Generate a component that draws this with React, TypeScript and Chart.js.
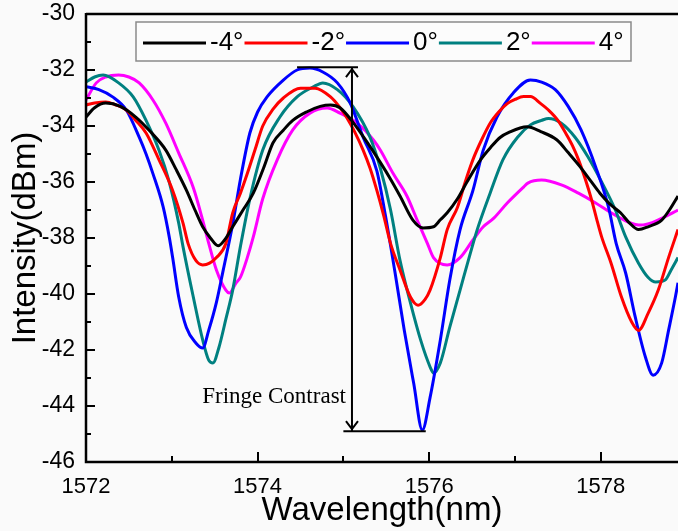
import { useEffect, useRef } from 'react';
import { Chart, registerables } from 'chart.js';

Chart.register(...registerables);

// ---- data (wavelength nm, intensity dBm) ----
const seriesLabels = ['-4°', '-2°', '0°', '2°', '4°'];
const seriesColors = ['#000000', '#ff0000', '#0000ff', '#008080', '#ff00ff'];

const curveNeg4: [number, number][] = [
  [1572.0, -33.68], [1572.1, -33.35], [1572.23, -33.18], [1572.4, -33.3], [1572.58, -33.68],
  [1572.75, -34.2], [1572.93, -34.86], [1573.05, -35.55], [1573.17, -36.29], [1573.27, -37.0],
  [1573.36, -37.6], [1573.45, -38.0], [1573.54, -38.28], [1573.62, -38.05], [1573.71, -37.6],
  [1573.83, -37.0], [1573.95, -36.4], [1574.07, -35.5], [1574.18, -34.6], [1574.3, -34.15],
  [1574.41, -33.8], [1574.57, -33.5], [1574.73, -33.3], [1574.85, -33.25], [1574.96, -33.35],
  [1575.11, -33.86], [1575.27, -34.55], [1575.43, -35.3], [1575.55, -35.9], [1575.66, -36.5],
  [1575.81, -37.36], [1575.93, -37.64], [1576.05, -37.6], [1576.13, -37.35], [1576.21, -37.1],
  [1576.33, -36.6], [1576.44, -36.0], [1576.6, -35.2], [1576.72, -34.75], [1576.83, -34.4],
  [1576.95, -34.2], [1577.06, -34.07], [1577.14, -34.03], [1577.3, -34.2], [1577.49, -34.5],
  [1577.62, -34.95], [1577.76, -35.46], [1577.88, -35.95], [1577.99, -36.4], [1578.11, -36.8],
  [1578.23, -37.1], [1578.33, -37.45], [1578.44, -37.7], [1578.55, -37.6], [1578.71, -37.36],
  [1578.8, -37.0], [1578.9, -36.5],
];

const curveNeg2: [number, number][] = [
  [1572.0, -33.25], [1572.1, -33.18], [1572.23, -33.14], [1572.35, -33.25], [1572.47, -33.43],
  [1572.58, -33.8], [1572.7, -34.25], [1572.85, -35.2], [1573.01, -36.3], [1573.13, -37.46],
  [1573.19, -38.2], [1573.28, -38.8], [1573.36, -38.96], [1573.44, -38.9], [1573.52, -38.7],
  [1573.63, -38.2], [1573.71, -37.1], [1573.8, -36.4], [1573.88, -35.7], [1573.97, -34.85],
  [1574.06, -34.0], [1574.18, -33.4], [1574.3, -33.0], [1574.5, -32.65], [1574.67, -32.65],
  [1574.85, -32.96], [1574.95, -33.3], [1575.04, -33.7], [1575.13, -34.2], [1575.23, -34.86],
  [1575.31, -35.5], [1575.39, -36.3], [1575.47, -37.2], [1575.55, -38.2], [1575.66, -39.14],
  [1575.78, -40.1], [1575.87, -40.4], [1575.95, -40.2], [1576.01, -39.86], [1576.13, -38.7],
  [1576.21, -37.7], [1576.33, -36.9], [1576.42, -36.0], [1576.51, -35.2], [1576.61, -34.5],
  [1576.71, -33.9], [1576.81, -33.5], [1576.91, -33.2], [1577.0, -33.05], [1577.1, -32.95],
  [1577.18, -32.95], [1577.3, -33.2], [1577.39, -33.43], [1577.5, -33.8], [1577.59, -34.25],
  [1577.67, -34.7], [1577.74, -35.2], [1577.82, -35.9], [1577.89, -36.6], [1577.95, -37.3],
  [1578.01, -37.96], [1578.12, -38.9], [1578.24, -40.1], [1578.36, -41.0], [1578.44, -41.3],
  [1578.55, -40.7], [1578.67, -39.86], [1578.79, -38.7], [1578.9, -37.7],
];

const curveZero: [number, number][] = [
  [1572.0, -32.6], [1572.15, -32.7], [1572.31, -32.96], [1572.47, -33.43], [1572.62, -34.4],
  [1572.7, -35.0], [1572.78, -35.7], [1572.9, -36.9], [1572.97, -37.96], [1573.01, -38.7],
  [1573.08, -40.1], [1573.17, -41.2], [1573.28, -41.75], [1573.36, -41.93], [1573.43, -41.3],
  [1573.52, -40.3], [1573.6, -39.14], [1573.71, -37.5], [1573.8, -35.9], [1573.91, -34.25],
  [1574.0, -33.5], [1574.11, -32.96], [1574.3, -32.36], [1574.46, -32.0], [1574.61, -31.93],
  [1574.76, -32.07], [1574.93, -32.46], [1575.08, -33.18], [1575.23, -34.4], [1575.39, -35.6],
  [1575.49, -37.2], [1575.6, -39.2], [1575.71, -41.3], [1575.82, -43.2], [1575.92, -44.86],
  [1576.01, -43.7], [1576.13, -41.64], [1576.24, -39.5], [1576.36, -37.7], [1576.51, -36.3],
  [1576.63, -34.86], [1576.79, -33.68], [1576.98, -32.82], [1577.18, -32.36], [1577.31, -32.43],
  [1577.47, -32.7], [1577.62, -33.3], [1577.77, -34.14], [1577.94, -35.46], [1578.09, -36.9],
  [1578.18, -38.2], [1578.29, -39.25], [1578.4, -40.8], [1578.52, -42.25], [1578.61, -42.9],
  [1578.71, -42.46], [1578.79, -41.3], [1578.87, -40.1], [1578.9, -39.6],
];

const curvePos2: [number, number][] = [
  [1572.0, -32.43], [1572.1, -32.25], [1572.2, -32.18], [1572.38, -32.46], [1572.55, -32.96],
  [1572.7, -33.8], [1572.85, -34.86], [1572.97, -36.0], [1573.08, -37.46], [1573.13, -38.3],
  [1573.25, -40.1], [1573.36, -41.64], [1573.43, -42.36], [1573.48, -42.46], [1573.55, -41.9],
  [1573.63, -40.9], [1573.71, -39.86], [1573.8, -38.3], [1573.91, -36.6], [1574.06, -34.86],
  [1574.26, -33.68], [1574.46, -32.96], [1574.65, -32.6], [1574.76, -32.46], [1574.93, -32.7],
  [1575.11, -33.3], [1575.31, -34.4], [1575.43, -35.5], [1575.55, -37.0], [1575.66, -38.8],
  [1575.78, -40.3], [1575.9, -41.64], [1576.01, -42.6], [1576.05, -42.82], [1576.13, -42.46],
  [1576.24, -41.18], [1576.36, -39.86], [1576.48, -38.54], [1576.56, -37.7], [1576.71, -36.4],
  [1576.86, -35.2], [1577.03, -34.4], [1577.18, -33.96], [1577.31, -33.8], [1577.39, -33.73],
  [1577.54, -33.9], [1577.7, -34.4], [1577.85, -35.1], [1578.01, -36.0], [1578.17, -37.0],
  [1578.29, -37.96], [1578.44, -38.9], [1578.55, -39.4], [1578.64, -39.57], [1578.75, -39.5],
  [1578.82, -39.14], [1578.9, -38.7],
];

const curvePos4: [number, number][] = [
  [1572.0, -33.07], [1572.12, -32.46], [1572.23, -32.25], [1572.38, -32.18], [1572.5, -32.25],
  [1572.62, -32.46], [1572.78, -33.07], [1572.93, -33.9], [1573.08, -34.96], [1573.25, -36.2],
  [1573.36, -37.36], [1573.43, -38.18], [1573.52, -39.14], [1573.63, -39.86], [1573.67, -39.96],
  [1573.75, -39.6], [1573.8, -39.4], [1573.88, -38.7], [1573.95, -37.96], [1574.06, -36.6],
  [1574.23, -35.2], [1574.41, -34.14], [1574.61, -33.54], [1574.81, -33.36], [1574.96, -33.54],
  [1575.16, -33.9], [1575.35, -34.5], [1575.43, -34.86], [1575.58, -35.7], [1575.74, -36.5],
  [1575.86, -37.36], [1575.98, -38.2], [1576.05, -38.7], [1576.21, -38.96], [1576.36, -38.7],
  [1576.51, -38.07], [1576.63, -37.6], [1576.75, -37.3], [1576.91, -36.75], [1577.1, -36.18],
  [1577.15, -36.04], [1577.31, -35.93], [1577.54, -36.1], [1577.74, -36.4], [1577.94, -36.75],
  [1578.12, -37.1], [1578.32, -37.43], [1578.47, -37.54], [1578.6, -37.45], [1578.71, -37.3],
  [1578.9, -37.0],
];

const curves = [curveNeg4, curveNeg2, curveZero, curvePos2, curvePos4];

// axes
const xMin = 1572;
const xMax = 1578.9;
const xStep = 2;
const yMin = -46;
const yMax = -30;
const yStep = 2;

// annotation (data coordinates)
const fringeText = 'Fringe Contrast';
const fringeArrowX = 1575.1;
const fringeTopY = -31.9;
const fringeBottomY = -44.9;
const fringeTopBar = [1574.46, 1575.17];
const fringeBottomBar = [1575.0, 1575.96];
const fringeTextY = -43.68;

const SANS = '"Liberation Sans", Arial, sans-serif';
const SERIF = '"Liberation Serif", "Times New Roman", serif';

const backgroundPlugin = {
  id: 'bg',
  beforeDraw(chart: any) {
    const { ctx, width, height } = chart;
    ctx.save();
    ctx.fillStyle = '#fafafa';
    ctx.fillRect(0, 0, width, height);
    ctx.restore();
  },
};

const framePlugin = {
  id: 'frame',
  afterDatasetsDraw(chart: any) {
    const { ctx, chartArea: a, scales } = chart;
    const x = scales.x;
    const y = scales.y;
    ctx.save();
    ctx.strokeStyle = '#000';
    ctx.lineCap = 'butt';
    ctx.lineWidth = 2.5;
    ctx.beginPath();
    ctx.moveTo(a.left, a.top);
    ctx.lineTo(a.right, a.top);
    ctx.moveTo(a.left, a.top - 1);
    ctx.lineTo(a.left, a.bottom);
    ctx.lineTo(a.right, a.bottom);
    ctx.stroke();
    ctx.lineWidth = 2;
    ctx.beginPath();
    for (let v = yMin; v <= yMax; v += 1) {
      const py = Math.round(y.getPixelForValue(v));
      const len = (v - yMin) % yStep === 0 ? 9 : 5;
      ctx.moveTo(a.left, py);
      ctx.lineTo(a.left + len, py);
    }
    for (let v = xMin; v <= xMax; v += 1) {
      const px = Math.round(x.getPixelForValue(v));
      const len = (v - xMin) % xStep === 0 ? 10 : 6;
      ctx.moveTo(px, a.bottom);
      ctx.lineTo(px, a.bottom - len);
    }
    ctx.stroke();
    ctx.restore();
  },
};

const annotationPlugin = {
  id: 'fringe',
  afterDatasetsDraw(chart: any) {
    const { ctx, scales } = chart;
    const x = scales.x;
    const y = scales.y;
    const ax = x.getPixelForValue(fringeArrowX);
    const yt = y.getPixelForValue(fringeTopY);
    const yb = y.getPixelForValue(fringeBottomY);
    ctx.save();
    ctx.strokeStyle = '#000';
    ctx.lineWidth = 2;
    ctx.beginPath();
    ctx.moveTo(x.getPixelForValue(fringeTopBar[0]), yt);
    ctx.lineTo(x.getPixelForValue(fringeTopBar[1]), yt);
    ctx.moveTo(x.getPixelForValue(fringeBottomBar[0]), yb);
    ctx.lineTo(x.getPixelForValue(fringeBottomBar[1]), yb);
    ctx.moveTo(ax, yt + 1);
    ctx.lineTo(ax, yb - 1);
    ctx.moveTo(ax - 6, yt + 10);
    ctx.lineTo(ax, yt + 2);
    ctx.lineTo(ax + 6, yt + 10);
    ctx.moveTo(ax - 6, yb - 10);
    ctx.lineTo(ax, yb - 2);
    ctx.lineTo(ax + 6, yb - 10);
    ctx.stroke();
    ctx.fillStyle = '#000';
    ctx.font = `23px ${SERIF}`;
    ctx.textAlign = 'right';
    ctx.textBaseline = 'middle';
    ctx.fillText(fringeText, ax - 6, y.getPixelForValue(fringeTextY));
    ctx.restore();
  },
};

const legendPlugin = {
  id: 'customLegend',
  afterDatasetsDraw(chart: any) {
    const { ctx } = chart;
    const boxLeft = 136;
    const boxTop = 22;
    const boxRight = 631;
    const boxBottom = 61;
    const midY = 43;
    ctx.save();
    ctx.fillStyle = '#fcfcfc';
    ctx.fillRect(boxLeft, boxTop, boxRight - boxLeft, boxBottom - boxTop);
    ctx.strokeStyle = '#8a8a8a';
    ctx.lineWidth = 1.5;
    ctx.strokeRect(boxLeft, boxTop, boxRight - boxLeft, boxBottom - boxTop);
    ctx.font = `26px ${SANS}`;
    ctx.textBaseline = 'middle';
    ctx.textAlign = 'left';
    let cx = 143;
    seriesLabels.forEach((label, i) => {
      ctx.strokeStyle = seriesColors[i];
      ctx.lineWidth = 3;
      ctx.beginPath();
      ctx.moveTo(cx, midY);
      ctx.lineTo(cx + 63, midY);
      ctx.stroke();
      cx += 67;
      ctx.fillStyle = '#000';
      ctx.fillText(label, cx, midY);
      cx += ctx.measureText(label).width + 1;
    });
    ctx.restore();
  },
};

export default function App() {
  const canvasRef = useRef<HTMLCanvasElement | null>(null);

  useEffect(() => {
    if (!canvasRef.current) return;
    const chart = new Chart(canvasRef.current, {
      type: 'line',
      data: {
        datasets: curves.map((c, i) => ({
          label: seriesLabels[i],
          data: c.map(([wx, wy]) => ({ x: wx, y: wy })),
          borderColor: seriesColors[i],
          backgroundColor: seriesColors[i],
          borderWidth: 3,
          pointRadius: 0,
          cubicInterpolationMode: 'monotone' as const,
          fill: false,
          order: i,
        })),
      },
      options: {
        responsive: false,
        animation: false,
        devicePixelRatio: 1,
        layout: { padding: { top: 14, left: 0, right: 0, bottom: 0 } },
        plugins: { legend: { display: false }, tooltip: { enabled: false }, title: { display: false } },
        scales: {
          x: {
            type: 'linear',
            min: xMin,
            max: xMax,
            afterFit: (s: any) => {
              s.height = 69;
              s.paddingLeft = 0;
              s.paddingRight = 0;
            },
            grid: { display: false, drawTicks: false },
            border: { display: false },
            ticks: {
              stepSize: xStep,
              includeBounds: false,
              color: '#000',
              padding: 12,
              maxRotation: 0,
              font: { family: SANS, size: 22 },
              callback: (v: any) => String(v),
            },
            title: {
              display: true,
              text: 'Wavelength(nm)',
              color: '#000',
              font: { family: SANS, size: 33 },
              padding: { top: 0, bottom: 0 },
            },
          },
          y: {
            type: 'linear',
            min: yMin,
            max: yMax,
            afterFit: (s: any) => {
              s.width = 86;
              s.paddingTop = 0;
              s.paddingBottom = 0;
            },
            grid: { display: false, drawTicks: false },
            border: { display: false },
            ticks: {
              stepSize: yStep,
              color: '#000',
              padding: 11,
              font: { family: SANS, size: 23 },
              callback: (v: any) => String(v),
            },
            title: {
              display: true,
              text: 'Intensity(dBm)',
              color: '#000',
              font: { family: SANS, size: 33 },
              padding: { top: 6, bottom: 0 },
            },
          },
        },
      },
      plugins: [backgroundPlugin, framePlugin, annotationPlugin, legendPlugin],
    } as any);
    return () => chart.destroy();
  }, []);

  return (
    <div style={{ position: 'fixed', left: 0, top: 0, width: 678, height: 531 }}>
      <canvas ref={canvasRef} width={678} height={531} />
    </div>
  );
}
